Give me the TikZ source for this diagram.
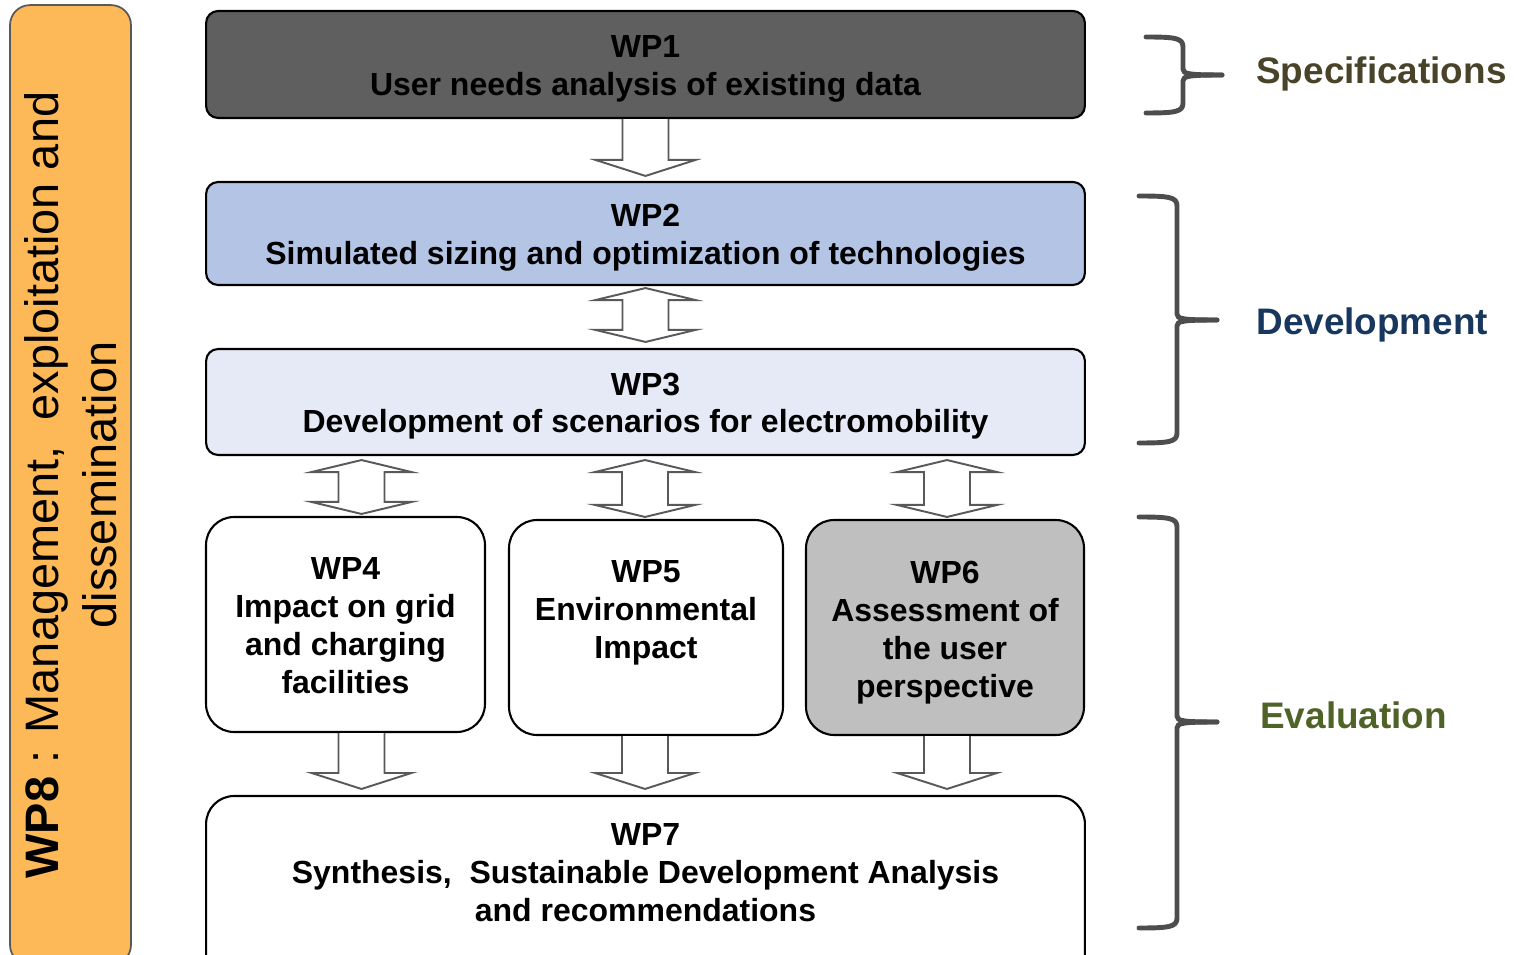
\documentclass[tikz,border=0pt]{standalone}
\usepackage{fontspec}
\setmainfont{Liberation Sans}
\usetikzlibrary{calc}

\definecolor{wpdark}{RGB}{95,95,95}
\definecolor{wpblue}{RGB}{180,196,228}
\definecolor{wppale}{RGB}{230,234,246}
\definecolor{wpgray}{RGB}{191,191,191}
\definecolor{wporange}{RGB}{253,184,88}
\definecolor{edgegray}{RGB}{89,89,89}
\definecolor{bracegray}{RGB}{77,77,77}
\definecolor{specol}{RGB}{73,68,41}
\definecolor{devcol}{RGB}{23,55,94}
\definecolor{evalcol}{RGB}{79,98,40}

% hollow block arrows: shaft from #1 down to the tip #2
\newcommand{\fatdown}[2]{%
  \draw[fatarrow] ($(#1)+(-23,0)$) -- ($(#2)+(-23,-16)$) -- ($(#2)+(-50,-16)$) -- (#2)
    -- ($(#2)+(50,-16)$) -- ($(#2)+(23,-16)$) -- ($(#1)+(23,0)$);}
% two-headed version, tips at #1 (top) and #2 (bottom)
\newcommand{\fatboth}[2]{%
  \draw[fatarrow] (#1) -- ($(#1)+(50,12)$) -- ($(#1)+(23,12)$) -- ($(#2)+(23,-12)$)
    -- ($(#2)+(50,-12)$) -- (#2) -- ($(#2)+(-50,-12)$) -- ($(#2)+(-23,-12)$)
    -- ($(#1)+(-23,12)$) -- ($(#1)+(-50,12)$) -- cycle;}
% curly bracket: left end, spine x, top, middle, bottom, tip x
\newcommand{\phasebrace}[6]{%
  \draw[bracket] (#1,#3) .. controls (#2-8,#3) and (#2,#3+1) .. (#2,#3+10) -- (#2,#4-6)
    .. controls (#2,#4-1) and (#2+6,#4) .. (#6,#4);
  \draw[bracket] (#1,#5) .. controls (#2-8,#5) and (#2,#5-1) .. (#2,#5-10) -- (#2,#4+6)
    .. controls (#2,#4+1) and (#2+6,#4) .. (#6,#4);}

\begin{document}
\begin{tikzpicture}[x=0.02cm, y=-0.02cm,
    wpbox/.style={draw=black, line width=1.2pt, rounded corners=0.24cm, align=center,
      inner sep=0pt, text height=1.24cm, text depth=0pt,
      font=\bfseries\fontsize{18.2}{21.6}\selectfont},
    wpround/.style={wpbox, rounded corners=0.56cm},
    fatarrow/.style={draw=edgegray, fill=white, line width=1.1pt},
    bracket/.style={draw=bracegray, line width=2.8pt, line cap=round},
    phase/.style={font=\bfseries\fontsize{21}{25}\selectfont, anchor=base west, inner sep=0pt}]
  \useasboundingbox (0,0) rectangle (1514,955);
  \clip (0,0) rectangle (1514,955);

  % management column
  \node[draw=edgegray, line width=1pt, fill=wporange, rounded corners=0.4cm, rotate=90,
    minimum width=19.2cm, minimum height=2.42cm, inner sep=0pt, align=center,
    font=\fontsize{26.7}{33}\selectfont] (wp8) at (70.5,485)
    {\textbf{WP8} : Management,\ \ exploitation and\\dissemination};

  % work packages
  \node[wpbox, fill=wpdark, minimum width=17.58cm, minimum height=2.14cm] (wp1) at (645.5,64.5)
    {WP1\\User needs analysis of existing data};
  \node[wpbox, fill=wpblue, minimum width=17.58cm, minimum height=2.06cm] (wp2) at (645.5,233.5)
    {WP2\\Simulated sizing and optimization of technologies};
  \node[wpbox, fill=wppale, minimum width=17.58cm, minimum height=2.12cm] (wp3) at (645.5,402)
    {WP3\\Development of scenarios for electromobility};
  \node[wpround, fill=white, minimum width=5.58cm, minimum height=4.3cm, text height=2.76cm]
    (wp4) at (345.5,624.5) {WP4\\Impact on grid\\and charging\\facilities};
  \node[wpround, fill=white, minimum width=5.48cm, minimum height=4.3cm]
    (wp5) at (646,627.5) {WP5\\Environmental\\Impact};
  \node[wpround, fill=wpgray, minimum width=5.56cm, minimum height=4.3cm, text height=2.8cm]
    (wp6) at (945,627.5) {WP6\\Assessment of\\the user\\perspective};
  \node[wpround, fill=white, minimum width=17.58cm, minimum height=3.78cm] (wp7) at (645.5,890.5)
    {WP7\\Synthesis,\ \ Sustainable Development Analysis\\and recommendations};

  % block arrows between packages
  \coordinate (d12) at ($(wp2.north)+(0,-5)$);
  \fatdown{wp1.south}{d12}
  \coordinate (u23) at ($(wp2.south)+(0,2)$);
  \coordinate (l23) at ($(wp3.north)+(0,-6)$);
  \fatboth{u23}{l23}
  \foreach \b/\dx in {wp4/16, wp5/-1, wp6/2} {
    \coordinate (u\b) at ($(wp3.south -| \b.north)+(\dx,4)$);
    \coordinate (l\b) at ($(\b.north)+(\dx,-2)$);
    \fatboth{u\b}{l\b}
    \coordinate (t\b) at ($(\b.south)+(\dx,0)$);
    \coordinate (d\b) at ($(\b.south |- wp7.north)+(\dx,-6)$);
    \fatdown{t\b}{d\b}
  }

  % phases
  \phasebrace{1146}{1183}{37}{75}{113}{1222}
  \phasebrace{1139}{1177}{196}{320}{443}{1217}
  \phasebrace{1139}{1177}{517}{722}{928}{1217}
  \node[phase, text=specol] (spec) at (1256,84) {Specifications};
  \node[phase, text=devcol] (dev) at (1256,335) {Development};
  \node[phase, text=evalcol] (eval) at (1260,728) {Evaluation};
\end{tikzpicture}
\end{document}
